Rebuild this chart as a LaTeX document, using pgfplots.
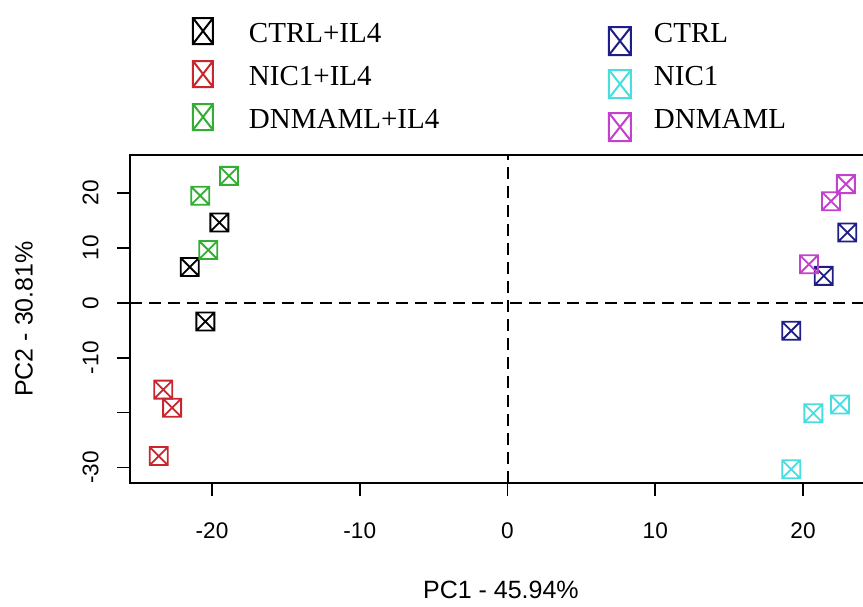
\documentclass[border=0pt]{standalone}
\usepackage{pgfplots}
\pgfplotsset{compat=1.18}
\usepackage{fontspec}
\setmainfont{Liberation Serif}
\newfontfamily\arial{Liberation Sans}
\usetikzlibrary{calc}
\definecolor{cblack}{RGB}{0,0,0}
\definecolor{cred}{RGB}{200,40,45}
\definecolor{cgreen}{RGB}{50,175,50}
\definecolor{cnavy}{RGB}{30,30,135}
\definecolor{ccyan}{RGB}{70,222,222}
\definecolor{cmag}{RGB}{195,65,205}
\pgfdeclareplotmark{boxx}{%
  \pgfpathrectangle{\pgfqpoint{-\pgfplotmarksize}{-\pgfplotmarksize}}{\pgfqpoint{2\pgfplotmarksize}{2\pgfplotmarksize}}%
  \pgfpathmoveto{\pgfqpoint{-\pgfplotmarksize}{-\pgfplotmarksize}}%
  \pgfpathlineto{\pgfqpoint{\pgfplotmarksize}{\pgfplotmarksize}}%
  \pgfpathmoveto{\pgfqpoint{-\pgfplotmarksize}{\pgfplotmarksize}}%
  \pgfpathlineto{\pgfqpoint{\pgfplotmarksize}{-\pgfplotmarksize}}%
  \pgfusepathqstroke}
\pgfplotsset{
  leftimg/.style={legend image code/.code={\draw[line width=1pt] (0pt,-4.5pt) rectangle (10pt,8.5pt) (0pt,-4.5pt) -- (10pt,8.5pt) (0pt,8.5pt) -- (10pt,-4.5pt);}},
  rightimg/.style={legend image code/.code={\draw[line width=1pt] (0pt,-10pt) rectangle (11pt,4pt) (0pt,-10pt) -- (11pt,4pt) (0pt,4pt) -- (11pt,-10pt);}},
}
\begin{document}
\begin{tikzpicture}
\begin{axis}[name=ax, scale only axis, width=366.5pt, height=164pt,
  xmin=-25.55, xmax=24.06, ymin=-32.8, ymax=26.9,
  axis line style={draw=none},
  clip=false,
  tick align=outside, xtick pos=left, ytick pos=left,
  major tick length=6.5pt, tick style={line width=0.8pt, color=black},
  xtick={-20,-10,0,10,20}, xticklabels={-20,-10,0,10,20},
  ytick={-30,-20,-10,0,10,20}, yticklabels={-30,,-10,0,10,20},
  ticklabel style={font=\arial\fontsize{11.3}{13}\selectfont, inner sep=0pt},
  yticklabel style={rotate=90, anchor=south},
  xticklabel style={anchor=north},
  xticklabel shift=13pt, yticklabel shift=9pt,
  xlabel={PC1 - 45.94\%}, ylabel={PC2 - 30.81\%},
  label style={font=\arial\fontsize{12.5}{15}\selectfont},
  xlabel style={at={(axis description cs:0.506,-0.326)}, anchor=center},
  ylabel style={at={(axis description cs:-0.1446,0.5)}, anchor=center},
  legend columns=2,
  legend cell align=left,
  legend style={draw=none, fill=none, at={(0,1)}, anchor=north west,
    xshift=31pt, yshift=69pt, inner sep=0pt, outer sep=0pt,
    font=\fontsize{14.5}{17}\selectfont, row sep=2pt,
    nodes={inner sep=0pt, text height=10pt, text depth=3pt, anchor=west},
    /tikz/column 1/.style={column sep=17.5pt},
    /tikz/column 3/.style={column sep=11pt}},
]
\addplot[only marks, mark=boxx, mark size=4.5pt, line width=0.9pt, color=cblack, leftimg]
  coordinates {(-19.5,14.6) (-21.5,6.5) (-20.45,-3.4)};
\addlegendentry{\makebox[179.5pt][l]{CTRL+IL4}}
\addplot[only marks, mark=boxx, mark size=4.5pt, line width=0.9pt, color=cnavy, rightimg]
  coordinates {(23.0,12.8) (21.4,4.9) (19.2,-5.1)};
\addlegendentry{CTRL}
\addplot[only marks, mark=boxx, mark size=4.5pt, line width=0.9pt, color=cred, leftimg]
  coordinates {(-23.3,-15.8) (-22.7,-19.1) (-23.6,-27.9)};
\addlegendentry{\makebox[179.5pt][l]{NIC1+IL4}}
\addplot[only marks, mark=boxx, mark size=4.5pt, line width=0.9pt, color=ccyan, rightimg]
  coordinates {(22.5,-18.5) (20.7,-20.1) (19.2,-30.3)};
\addlegendentry{NIC1}
\addplot[only marks, mark=boxx, mark size=4.5pt, line width=0.9pt, color=cgreen, leftimg]
  coordinates {(-18.85,23.1) (-20.8,19.5) (-20.25,9.6)};
\addlegendentry{\makebox[179.5pt][l]{DNMAML+IL4}}
\addplot[only marks, mark=boxx, mark size=4.5pt, line width=0.9pt, color=cmag, rightimg]
  coordinates {(22.9,21.6) (21.9,18.5) (20.4,7.0)};
\addlegendentry{DNMAML}
\draw[line width=1pt, dash pattern=on 6pt off 3.5pt] (axis cs:0,-32.8) -- (axis cs:0,26.9);
\draw[line width=1pt, dash pattern=on 6pt off 3.5pt] (axis cs:-25.55,0) -- (axis cs:24.06,0);
\draw[line width=1pt] (rel axis cs:1,1) -- (rel axis cs:0,1) -- (rel axis cs:0,0) -- (rel axis cs:1,0);
\end{axis}
\pgfresetboundingbox
\path[use as bounding box] ($(ax.south west)+(-65pt,-61.5pt)$) rectangle ($(ax.north east)+(0pt,77.5pt)$);
\end{tikzpicture}
\end{document}
